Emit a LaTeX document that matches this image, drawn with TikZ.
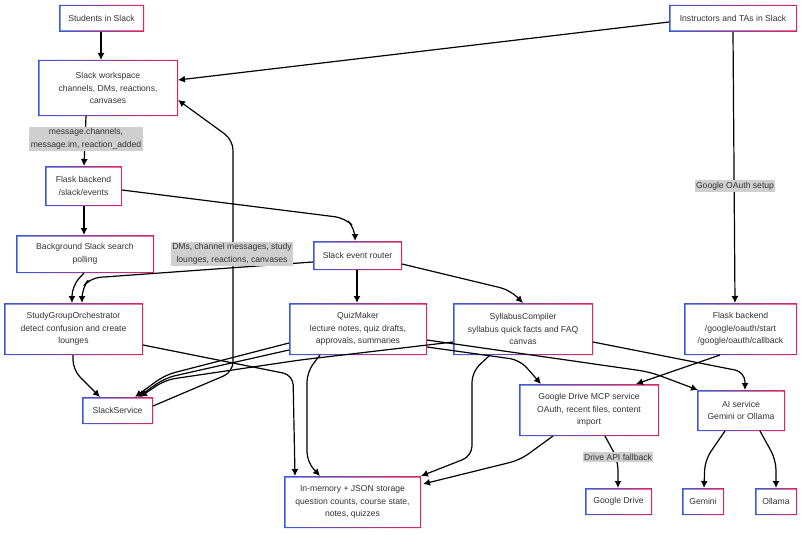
\documentclass[tikz,border=0pt]{standalone}
\usepackage{fontspec}
\setmainfont{Liberation Sans}
\usetikzlibrary{arrows.meta}
\definecolor{bb}{HTML}{3A5BD6}
\definecolor{rr}{HTML}{E0245E}
\definecolor{tx}{HTML}{333333}
\definecolor{lb}{HTML}{CFCFCF}
\begin{document}
\begin{tikzpicture}[x=1pt,y=-1pt,
  box/.style={draw=none,fill=white,text=tx,align=center,font=\fontsize{8.6}{12.5}\selectfont,inner sep=0pt},
  lab/.style={fill=lb,text=tx,align=center,font=\fontsize{8.6}{12.5}\selectfont,inner sep=1.5pt},
  e/.style={draw=black,line width=1.2pt,-{Latex[length=7pt,width=7pt]},rounded corners=10pt}]
\useasboundingbox (0,0) rectangle (806,535);
\newcommand{\bx}[6]{% name, x1,y1,x2,y2,text
  \shade[left color=bb,right color=rr,even odd rule] (#2,#3) rectangle (#4,#5) (#2+1.5,#3+1.5) rectangle (#4-1.5,#5-1.5);
  \node[box,minimum width={#4-#2-3},minimum height={#5-#3-3}] (#1) at ({(#2+#4)/2},{(#3+#5)/2}) {#6};}
\bx{stu}{59}{5}{144}{32}{Students in Slack}
\bx{ins}{669}{5}{797}{32}{Instructors and TAs in Slack}
\bx{ws}{38}{60}{178}{116}{Slack workspace\\channels, DMs, reactions,\\canvases}
\bx{fe}{45}{166}{122}{206}{Flask backend\\/slack/events}
\bx{bg}{16}{235}{154}{273}{Background Slack search\\polling}
\bx{rt}{313}{241}{402}{270}{Slack event router}
\bx{sgo}{4}{303}{143}{355}{StudyGroupOrchestrator\\detect confusion and create\\lounges}
\bx{qm}{289}{303}{427}{355}{QuizMaker\\lecture notes, quiz drafts,\\approvals, summaries}
\bx{sc}{453}{303}{593}{355}{SyllabusCompiler\\syllabus quick facts and FAQ\\canvas}
\bx{fo}{684}{303}{797}{355}{Flask backend\\/google/oauth/start\\/google/oauth/callback}
\bx{ss}{82}{397}{153}{424}{SlackService}
\bx{gd}{519}{384}{659}{436}{Google Drive MCP service\\OAuth, recent files, content\\import}
\bx{ai}{697}{390}{785}{431}{AI service\\Gemini or Ollama}
\bx{st}{284}{476}{421}{528}{In-memory + JSON storage\\question counts, course state,\\notes, quizzes}
\bx{gdr}{585}{488}{652}{515}{Google Drive}
\bx{gem}{682}{488}{724}{515}{Gemini}
\bx{oll}{755}{488}{797}{515}{Ollama}
% edges
\draw[e] (101,32) -- (101,60);
\draw[e] (669,22) -- (178,80);
\draw[e] (733,32) -- (735,303);
\node[lab] (l1) at (735,186) {Google OAuth setup};
\draw[e] (86,116) -- (84,166);
\node[lab] (l2) at (86,139) {message.channels,\\message.im, reaction\_added};
\draw[e] (122,190) -- (345,218) -- (355,228) -- (355,241);
\draw[e] (84,206) -- (84,235);
\draw[e] (84,273) -- (72,286) -- (72,303);
\draw[e] (313,262) -- (90,278) -- (82,288) -- (82,303);
\draw[e] (357,270) -- (357,303);
\draw[e] (402,264) -- (510,290) -- (523,303);
\draw[e] (153,406) -- (233,372) -- (233,140) -- (178,100);
\node[lab] (l3) at (232,254) {DMs, channel messages, study\\lounges, reactions, canvases};
\draw[e] (73,355) -- (73,370) -- (100,397);
\draw[e] (143,345) -- (293,375) -- (295,476);
\draw[e] (289,343) -- (165,375) -- (135,397);
\draw[e] (289,350) -- (165,378) -- (138,397);
\draw[e] (453,342) -- (300,360) -- (165,380) -- (140,397);
\draw[e] (320,355) -- (307,372) -- (307,462) -- (320,476);
\draw[e] (490,355) -- (472,372) -- (472,456) -- (421,476);
\draw[e] (553,436) -- (520,460) -- (423,484);
\draw[e] (427,347) -- (520,360) -- (541,384);
\draw[e] (427,340) -- (650,372) -- (698,390);
\draw[e] (593,342) -- (745,372) -- (745,390);
\draw[e] (720,355) -- (636,384);
\draw[e] (605,436) -- (618,460) -- (618,488);
\node[lab] (l4) at (618,457) {Drive API fallback};
\draw[e] (725,431) -- (705,460) -- (704,488);
\draw[e] (760,431) -- (776,460) -- (776,488);
\end{tikzpicture}
\end{document}
